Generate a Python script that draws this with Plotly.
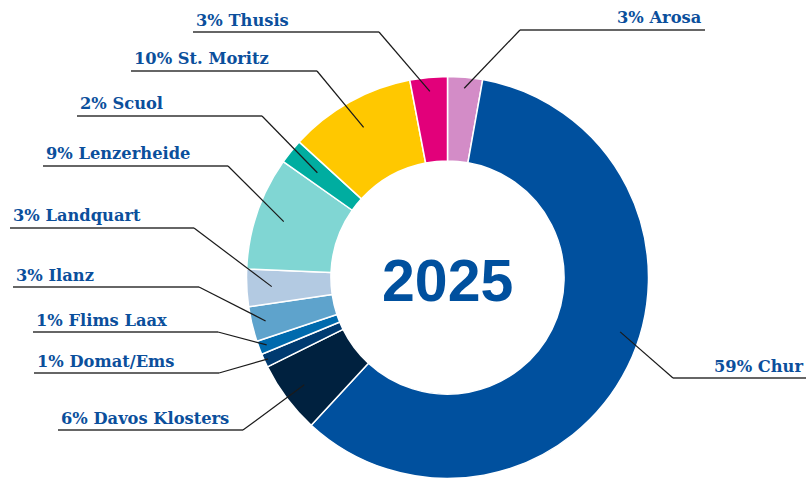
import math
import plotly.graph_objects as go

# ---------------- data ----------------
regions = ["Arosa", "Chur", "Davos Klosters", "Domat/Ems", "Flims Laax", "Ilanz",
           "Landquart", "Lenzerheide", "Scuol", "St. Moritz", "Thusis"]
shares = [2.8, 59.0, 5.8, 1.1, 1.1, 2.8, 3.0, 9.1, 2.0, 10.2, 3.0]
year_label = "2025"

# ---------------- styles ----------------
colors = ["#d38cc7", "#00509e", "#00213f", "#003a70", "#006aad", "#5ea3cc",
          "#b3cae2", "#80d6d3", "#00ada0", "#ffc800", "#e2007a"]
TEXT_COLOR = "#0b4f9c"
LINE_COLOR = "#1a1a1a"

# ---------------- layout (pixels) ----------------
W, H = 806, 480
CX, CY, R = 447.5, 277.5, 201.0
HOLE = 0.58

side = ["right", "right", "left", "left", "left", "left", "left", "left", "left", "left", "left"]
elbow_x = [520, 673, 243, 219, 218, 199, 194, 228, 262, 317, 379]
line_y = [30, 378, 430, 373, 332, 287, 228, 166, 116, 71, 32]
line_end_x = [705, 806, 58, 34, 33, 13, 10, 43, 77, 131, 193]
anchor_r = [190, 181, 179, 197, 193, 187, 176, 173, 167, 172, 187]
anchor_frac = [0.5, 0.458, 0.5, 0.5, 0.5, 0.5, 0.5, 0.5, 0.5, 0.5, 0.5]


def px(x):
    return x / W


def py(y):
    return 1 - y / H


fig = go.Figure(go.Pie(
    values=shares,
    labels=regions,
    sort=False,
    direction="clockwise",
    rotation=0,
    hole=HOLE,
    marker=dict(colors=colors, line=dict(color="white", width=1.5)),
    textinfo="none",
    hoverinfo="label+percent",
    domain=dict(x=[px(CX - R), px(CX + R)], y=[py(CY + R), py(CY - R)]),
    showlegend=False,
))

total = sum(shares)
shapes = []
annotations = []
start = 0.0
for i, (name, v) in enumerate(zip(regions, shares)):
    span = v / total * 360.0
    ang = math.radians(start + anchor_frac[i] * span)
    start += span
    ax = CX + anchor_r[i] * math.sin(ang)
    ay = CY - anchor_r[i] * math.cos(ang)
    # leader line: anchor -> elbow -> end of underline
    shapes.append(dict(type="line", xref="paper", yref="paper",
                       x0=px(ax), y0=py(ay), x1=px(elbow_x[i]), y1=py(line_y[i]),
                       line=dict(color=LINE_COLOR, width=1.2)))
    shapes.append(dict(type="line", xref="paper", yref="paper",
                       x0=px(elbow_x[i]), y0=py(line_y[i]), x1=px(line_end_x[i]), y1=py(line_y[i]),
                       line=dict(color="#333333", width=1.4)))
    pct = round(v / total * 100)
    if side[i] == "left":
        tx, xa = line_end_x[i] + 0.5, "left"
    else:
        tx, xa = line_end_x[i] - 1.5, "right"
    annotations.append(dict(
        x=px(tx), y=py(line_y[i] - 0.5), xref="paper", yref="paper",
        xanchor=xa, yanchor="bottom", showarrow=False,
        text=f"<b>{pct}% {name}</b>",
        font=dict(family="DejaVu Serif", size=16.3, color=TEXT_COLOR),
    ))

annotations.append(dict(
    x=px(CX), y=py(281), xref="paper", yref="paper",
    xanchor="center", yanchor="middle", showarrow=False,
    text=f"<b>{year_label}</b>",
    font=dict(family="Liberation Sans", size=59, color="#00509e"),
))

fig.update_layout(
    width=W, height=H,
    margin=dict(l=0, r=0, t=0, b=0),
    paper_bgcolor="white",
    plot_bgcolor="white",
    shapes=shapes,
    annotations=annotations,
)

fig.write_html("out.html", config={"displayModeBar": False},
               post_script="document.body.style.margin='0';")
